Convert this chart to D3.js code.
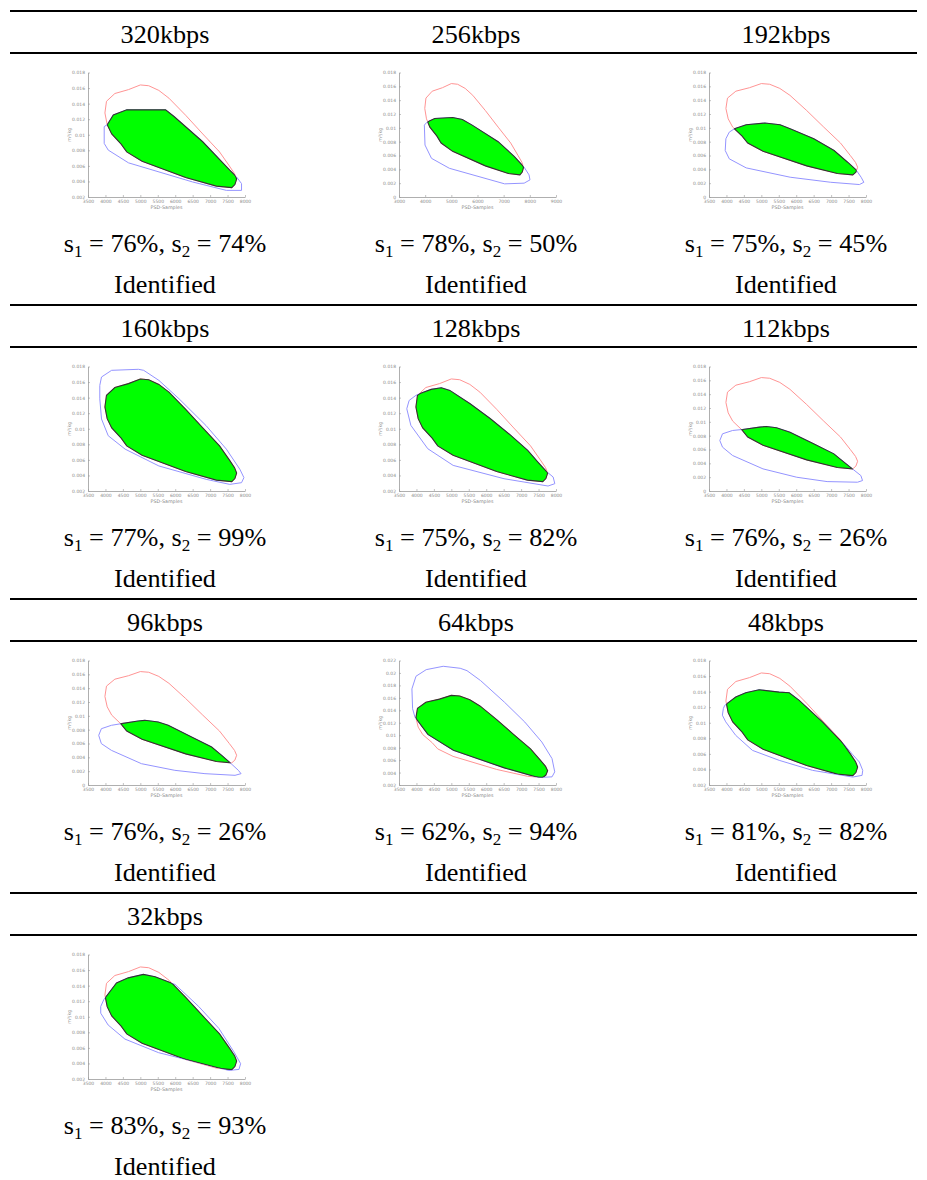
<!DOCTYPE html>
<html>
<head>
<meta charset="utf-8">
<script src="https://cdn.jsdelivr.net/npm/d3@7"></script>
<style>
  body { margin: 0; background: #fff; }
  .serif { font-family: "Liberation Serif", Tinos, "Times New Roman", Times, "Nimbus Roman No9 L", "Nimbus Roman", "Noto Serif", "DejaVu Serif", FreeSerif, "Noto Serif CJK SC", serif; }
</style>
</head>
<body>
<svg id="fig" width="927" height="1180"></svg>
<script>
// Bit-rate tests: scores and verdict per cell
const bitrates = ["320kbps", "256kbps", "192kbps", "160kbps", "128kbps", "112kbps", "96kbps", "64kbps", "48kbps", "32kbps"];
const s1Scores = [76, 78, 75, 77, 75, 76, 76, 62, 81, 83];
const s2Scores = [74, 50, 45, 99, 82, 26, 26, 94, 82, 93];
const verdicts = ["Identified", "Identified", "Identified", "Identified", "Identified", "Identified", "Identified", "Identified", "Identified", "Identified"];

// Tick label sets for the small PSD plots
const xTicksNarrow = [3500, 4000, 4500, 5000, 5500, 6000, 6500, 7000, 7500, 8000];
const xTicksWide = [3000, 4000, 5000, 6000, 7000, 8000, 9000];
const yTicksFrom2 = [0.002, 0.004, 0.006, 0.008, 0.01, 0.012, 0.014, 0.016, 0.018];
const yTicksFrom0 = [0, 0.002, 0.004, 0.006, 0.008, 0.01, 0.012, 0.014, 0.016, 0.018];
const yTicksTo22 = [0.002, 0.004, 0.006, 0.008, 0.01, 0.012, 0.014, 0.016, 0.018, 0.02, 0.022];
const xTickSets = [xTicksNarrow, xTicksWide, xTicksNarrow, xTicksNarrow, xTicksNarrow, xTicksNarrow, xTicksNarrow, xTicksNarrow, xTicksNarrow, xTicksNarrow];
const yTickSets = [yTicksFrom2, yTicksFrom0, yTicksFrom0, yTicksFrom2, yTicksFrom2, yTicksFrom0, yTicksFrom0, yTicksTo22, yTicksFrom2, yTicksFrom2];

// Reference region (PSD samples, m³/kg) – red outline
const referenceHull = [
  [3985, 0.0128], [4030, 0.0143], [4270, 0.0153], [4660, 0.0158], [5000, 0.0164], [5240, 0.0163],
  [5530, 0.0157], [5820, 0.0147], [6300, 0.0125], [6790, 0.0101], [7270, 0.0078], [7550, 0.0060],
  [7700, 0.0050], [7760, 0.0043], [7710, 0.0036], [7620, 0.0032], [7180, 0.0034], [6300, 0.0045],
  [5050, 0.0066], [4610, 0.0078], [4450, 0.0088], [4180, 0.0101], [4050, 0.0113]
];

// Test regions per bit rate – blue outline
const hull320 = [
  [4061, 0.01134], [4225, 0.01255], [4612, 0.0132], [5724, 0.0132], [5966, 0.01234], [6788, 0.0091],
  [7562, 0.00544], [7756, 0.00458], [7901, 0.00372], [7901, 0.00285], [7466, 0.00285], [6499, 0.00393],
  [4660, 0.00639], [4080, 0.00803], [3964, 0.00889], [3964, 0.01104]
];
const hull256 = [
  [4180, 0.01101], [4366, 0.01135], [5050, 0.01149], [5422, 0.0112], [5795, 0.01039], [6789, 0.008],
  [7410, 0.00583], [7783, 0.0043], [7969, 0.0032], [8006, 0.00248], [7783, 0.002], [7037, 0.0019],
  [4925, 0.00415], [4242, 0.00559], [3994, 0.00751], [3969, 0.01039], [4056, 0.01077]
];
const hull192 = [
  [4227, 0.00986], [4566, 0.01044], [5099, 0.01069], [5535, 0.01044], [5826, 0.00986], [6504, 0.00842],
  [7085, 0.00672], [7473, 0.00503], [7715, 0.00392], [7860, 0.00286], [7938, 0.00213], [7812, 0.0018],
  [6988, 0.00213], [5826, 0.00286], [4566, 0.00421], [4081, 0.00552], [3965, 0.00672], [3984, 0.00842],
  [4081, 0.00938]
];
const hull160 = [
  [3838, 0.01557], [3887, 0.01665], [4177, 0.01751], [4950, 0.01764], [5096, 0.01751], [5531, 0.01622],
  [6112, 0.01384], [6885, 0.0104], [7466, 0.00738], [7853, 0.00479], [7969, 0.00372], [7901, 0.00307],
  [7563, 0.00285], [6885, 0.0035], [5531, 0.00522], [4564, 0.00738], [4080, 0.0091], [3887, 0.01126],
  [3838, 0.01384]
];
const hull128 = [
  [4160, 0.01463], [4422, 0.01506], [4714, 0.01527], [4956, 0.01493], [5539, 0.01322], [6121, 0.01129],
  [6704, 0.00915], [7189, 0.00722], [7481, 0.00572], [7723, 0.00452], [7918, 0.0038], [7966, 0.00294],
  [7772, 0.00264], [6510, 0.00358], [5053, 0.00529], [4325, 0.00743], [3840, 0.01043], [3723, 0.01257],
  [3791, 0.01364], [3985, 0.01429]
];
const hull112 = [
  [4467, 0.0089], [4951, 0.00924], [5144, 0.00933], [5434, 0.00914], [5821, 0.00851], [6498, 0.00682],
  [7079, 0.00537], [7369, 0.00417], [7611, 0.0032], [7853, 0.00223], [7901, 0.00151], [7756, 0.00127],
  [6885, 0.00136], [6015, 0.00199], [5047, 0.0032], [4177, 0.00513], [3887, 0.00634], [3810, 0.0073],
  [3887, 0.00827], [4177, 0.00875]
];
const hull96 = [
  [4458, 0.00887], [4937, 0.00925], [5128, 0.00935], [5511, 0.00911], [5799, 0.00863], [6469, 0.00694],
  [7044, 0.0055], [7331, 0.00429], [7571, 0.00323], [7810, 0.00212], [7887, 0.00164], [7714, 0.0014],
  [6852, 0.00164], [5990, 0.00212], [5033, 0.00308], [4171, 0.00501], [3883, 0.00598], [3807, 0.00718],
  [3883, 0.00814], [4171, 0.00863]
];
const hull64 = [
  [3890, 0.01424], [3870, 0.01744], [3987, 0.01947], [4280, 0.02053], [4767, 0.02107], [5254, 0.02075],
  [5449, 0.02037], [5839, 0.01877], [6521, 0.01531], [7106, 0.01211], [7593, 0.00891], [7886, 0.00624],
  [7964, 0.00411], [7886, 0.00331], [7496, 0.0032], [6521, 0.00475], [5059, 0.00757], [4328, 0.01013],
  [3958, 0.0129]
];
const hull48 = [
  [3950, 0.01223], [4266, 0.0133], [4554, 0.01386], [4937, 0.01424], [5511, 0.01394], [5799, 0.01386],
  [6086, 0.01287], [6757, 0.01009], [7331, 0.00743], [7619, 0.0059], [7810, 0.00495], [7906, 0.00388],
  [7887, 0.00324], [7619, 0.00302], [6469, 0.00388], [5511, 0.00517], [4745, 0.00645], [4266, 0.00838],
  [3979, 0.01012], [3883, 0.01097], [3912, 0.01183]
];
const hull32 = [
  [3952, 0.01219], [4317, 0.01435], [4654, 0.015], [5087, 0.01544], [5423, 0.01513], [6000, 0.01414],
  [6673, 0.01132], [7250, 0.00851], [7683, 0.00548], [7875, 0.00397], [7827, 0.00323], [7538, 0.0031],
  [6481, 0.00431], [5519, 0.00539], [4558, 0.00713], [4077, 0.00894], [3865, 0.01046], [3865, 0.01132]
];
const testHulls = [hull320, hull256, hull192, hull160, hull128, hull112, hull96, hull64, hull48, hull32];

// ---- layout ----
const svg = d3.select("#fig");
const colCenters = [165, 476, 786];
const rowStep = 294;
const ruleX0 = 10, ruleX1 = 917;

// size the serif text so that a reference word spans its intended width
const probe = svg.append("text").attr("class", "serif").style("font-size", "100px").text("Identified");
const probeWidth = probe.node().getComputedTextLength();
probe.remove();
const textSize = Math.max(20, Math.min(32, 100 * 102 / probeWidth));
const subSize = textSize * 0.65;

// horizontal table rules (above and below each header)
for (let r = 0; r < 4; r++) {
  [11, 53].forEach(y0 => {
    svg.append("line")
      .attr("x1", ruleX0).attr("x2", ruleX1)
      .attr("y1", y0 + r * rowStep).attr("y2", y0 + r * rowStep)
      .attr("stroke", "#000").attr("stroke-width", 2);
  });
}

function drawPanel(i, cx, oy) {
  const xt = xTickSets[i], yt = yTickSets[i];
  const left = cx - 77, right = cx + 80, top = 72.5 + oy, bottom = 197 + oy;
  const x = d3.scaleLinear().domain([xt[0], xt[xt.length - 1]]).range([left, right]);
  const y = d3.scaleLinear().domain([yt[0], yt[yt.length - 1]]).range([bottom, top]);
  const g = svg.append("g");
  const outline = d3.line().x(d => x(d[0])).y(d => y(d[1])).curve(d3.curveLinearClosed);
  const refD = outline(referenceHull), testD = outline(testHulls[i]);

  const defs = g.append("defs");
  defs.append("clipPath").attr("id", `ref${i}`).append("path").attr("d", refD);
  defs.append("clipPath").attr("id", `tst${i}`).append("path").attr("d", testD);

  // outlines of both regions
  g.append("path").attr("d", refD).attr("fill", "none").attr("stroke", "#ff9494").attr("stroke-width", 1);
  g.append("path").attr("d", testD).attr("fill", "none").attr("stroke", "#9494ff").attr("stroke-width", 1);
  // overlap of the two regions, filled green
  g.append("path").attr("d", testD).attr("clip-path", `url(#ref${i})`)
    .attr("fill", "#00ff00").attr("stroke", "#333").attr("stroke-width", 1.1);
  g.append("path").attr("d", refD).attr("clip-path", `url(#tst${i})`)
    .attr("fill", "none").attr("stroke", "#333").attr("stroke-width", 1.1);

  const fmt = d3.format("~g");
  const styleAxis = sel => {
    sel.select(".domain").attr("stroke", "#9a9a9a").attr("stroke-width", 0.8);
    sel.selectAll(".tick line").attr("stroke", "#9a9a9a").attr("stroke-width", 0.6);
    sel.selectAll(".tick text").attr("fill", "#8a8a8a")
      .style("font-size", "4.5px").style("font-family", "'DejaVu Sans', sans-serif");
  };
  g.append("g").attr("transform", `translate(${left},0)`)
    .call(d3.axisLeft(y).tickValues(yt).tickSizeInner(-2).tickSizeOuter(0).tickPadding(3).tickFormat(fmt))
    .call(styleAxis);
  g.append("g").attr("transform", `translate(0,${bottom})`)
    .call(d3.axisBottom(x).tickValues(xt).tickSizeInner(-2).tickSizeOuter(0).tickPadding(2.5).tickFormat(fmt))
    .call(styleAxis);

  g.append("text")
    .attr("x", (left + right) / 2).attr("y", bottom + 12)
    .attr("text-anchor", "middle").attr("fill", "#8a8a8a")
    .style("font-size", "4.8px").style("font-family", "'DejaVu Sans', sans-serif")
    .text("PSD-Samples");
  g.append("text")
    .attr("transform", `translate(${left - 17},${(top + bottom) / 2}) rotate(-90)`)
    .attr("text-anchor", "middle").attr("fill", "#8a8a8a")
    .style("font-size", "4.8px").style("font-family", "'DejaVu Sans', sans-serif")
    .text("m³/kg");
}

bitrates.forEach((label, i) => {
  const r = Math.floor(i / 3), cx = colCenters[i % 3], oy = r * rowStep;

  svg.append("text").attr("class", "serif")
    .attr("x", cx).attr("y", 43 + oy).attr("text-anchor", "middle")
    .style("font-size", `${textSize}px`)
    .text(label);

  drawPanel(i, cx, oy);

  const t = svg.append("text").attr("class", "serif")
    .attr("x", cx).attr("y", 252 + oy).attr("text-anchor", "middle")
    .style("font-size", `${textSize}px`);
  t.append("tspan").text("s");
  t.append("tspan").attr("dy", 5).style("font-size", `${subSize}px`).text("1");
  t.append("tspan").attr("dy", -5).text(` = ${s1Scores[i]}%, s`);
  t.append("tspan").attr("dy", 5).style("font-size", `${subSize}px`).text("2");
  t.append("tspan").attr("dy", -5).text(` = ${s2Scores[i]}%`);

  svg.append("text").attr("class", "serif")
    .attr("x", cx).attr("y", 293 + oy).attr("text-anchor", "middle")
    .style("font-size", `${textSize}px`)
    .text(verdicts[i]);
});
</script>
</body>
</html>
